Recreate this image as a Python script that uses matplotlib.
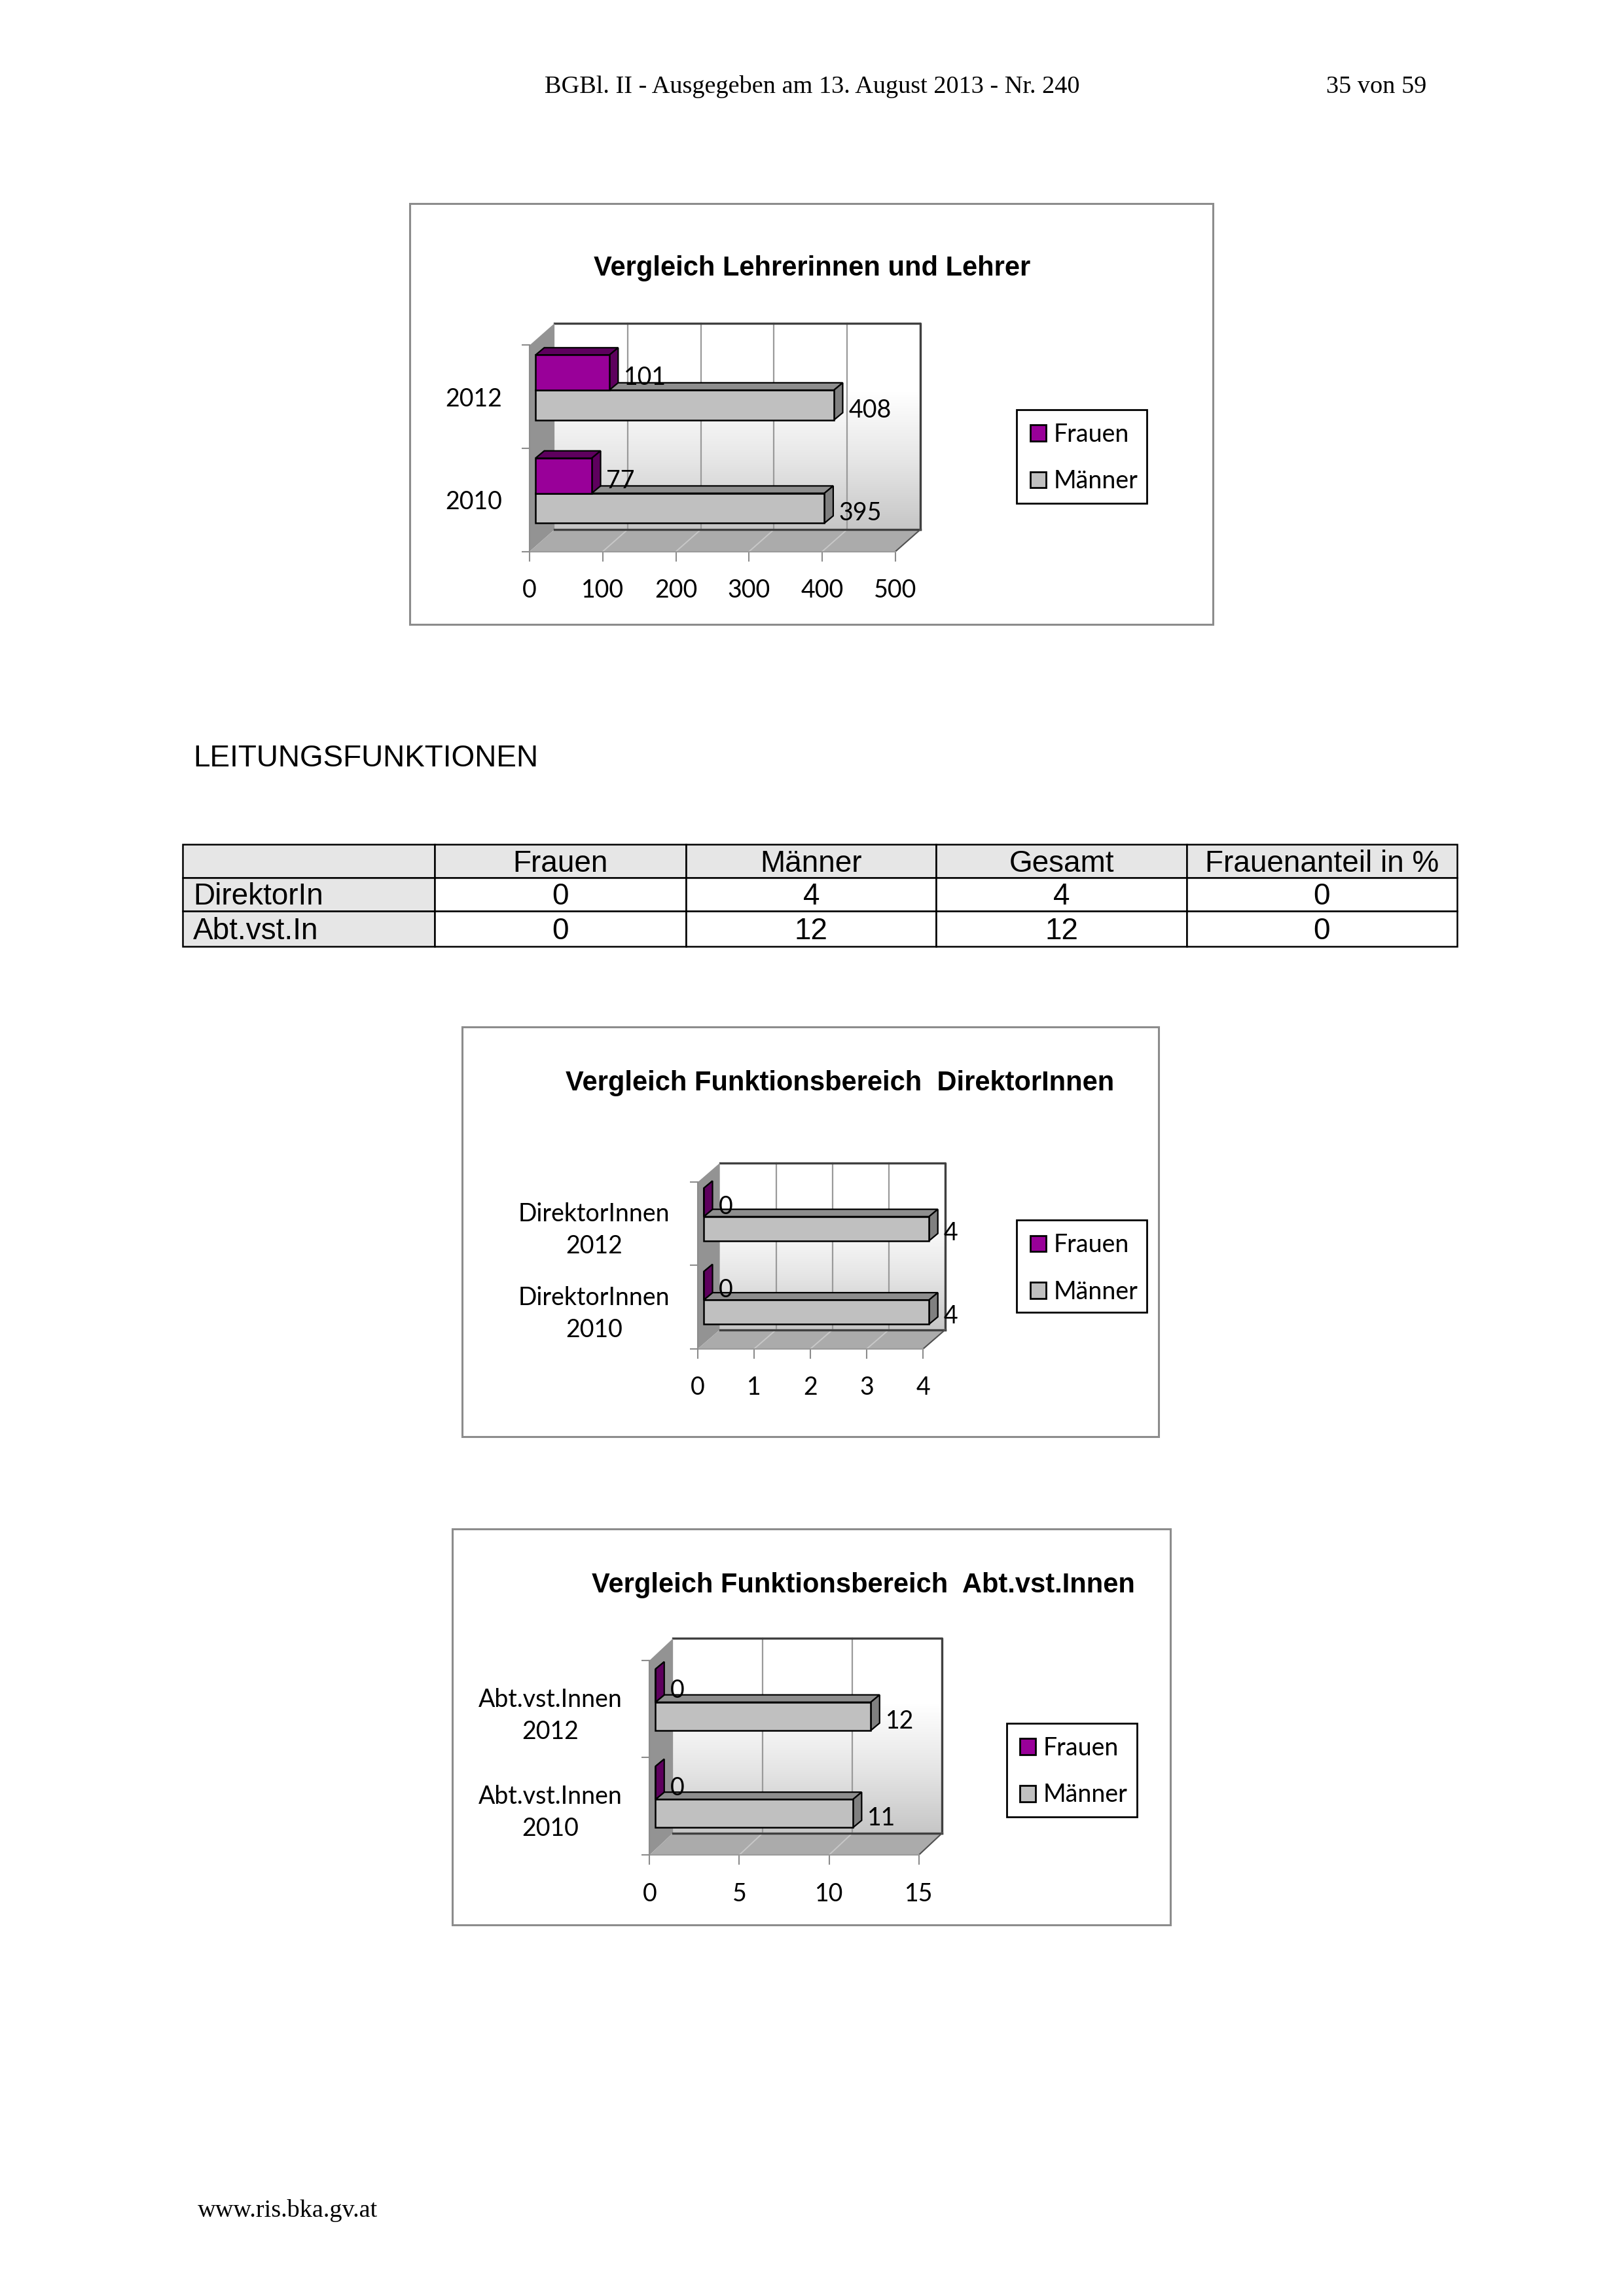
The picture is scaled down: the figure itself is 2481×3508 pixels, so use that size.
import numpy as np
import matplotlib
matplotlib.use("Agg")
import matplotlib.pyplot as plt
from matplotlib.patches import Rectangle, Polygon
from matplotlib.colors import LinearSegmentedColormap

# ---- data ----
years = ["2010", "2012"]
lehrer_frauen = [77, 101]
lehrer_maenner = [395, 408]

dir_cats = ["DirektorInnen\n2010", "DirektorInnen\n2012"]
dir_frauen = [0, 0]
dir_maenner = [4, 4]

abt_cats = ["Abt.vst.Innen\n2010", "Abt.vst.Innen\n2012"]
abt_frauen = [0, 0]
abt_maenner = [11, 12]

table_header = ["", "Frauen", "Männer", "Gesamt", "Frauenanteil in %"]
table_rows = ["DirektorIn", "Abt.vst.In"]
table_frauen = [0, 0]
table_maenner = [4, 12]
table_gesamt = [4, 12]
table_anteil = [0, 0]

legend_labels = ["Frauen", "Männer"]

# reference layout is measured on a 1110 x 1570 grid
W, H = 1110.0, 1569.5
PURPLE, PURPLE_DARK = "#990099", "#5e005e"
GREY, GREY_DARK = "#c0c0c0", "#8c8c8c"
SANS = "Liberation Sans"
CHART_FONT = "Lato"
SERIF = "Liberation Serif"
FS = 27

fig = plt.figure(figsize=(24.81, 35.08), dpi=100)


def fx(x):
    return x / W


def fy(y):
    return 1 - y / H


def frame(x0, y0, x1, y1, color="#8c8c8c", lw=2.2, fill=None):
    fig.patches.append(Rectangle((fx(x0), fy(y1)), fx(x1) - fx(x0), fy(y0) - fy(y1),
                                 transform=fig.transFigure, fill=fill is not None,
                                 facecolor=fill, edgecolor=color, lw=lw))


def legend(x0, y0, x1, y1):
    frame(x0, y0, x1, y1, color="black", lw=2.0)
    for i, (lab, col) in enumerate(zip(legend_labels, [PURPLE, GREY])):
        yy = y0 + 16 + i * 32
        fig.patches.append(Rectangle((fx(x0 + 9), fy(yy + 5.5)), fx(11), 11 / H,
                                     transform=fig.transFigure, facecolor=col,
                                     edgecolor="black", lw=2.0))
        fig.text(fx(x0 + 25), fy(yy + 1), lab, fontsize=FS, family=CHART_FONT,
                 va="center", ha="left")


def chart(frame_box, title, title_xy, cats, frauen, maenner, xmax, step,
          plane, depth, legend_box, cat_x, cat_ha):
    frame(*frame_box)
    fig.text(fx(title_xy[0]), fy(title_xy[1] + 1.5), title, fontsize=30, family=SANS,
             weight="bold", ha="center", va="center")
    px0, py0, px1, py1 = plane
    ax = fig.add_axes([fx(px0), fy(py1), fx(px1) - fx(px0), fy(py0) - fy(py1)])
    n = len(cats)
    ux = xmax / (px1 - px0)     # data units per layout pixel (x)
    uy = n / (py1 - py0)        # data units per layout pixel (y, upward)
    ddx = depth[0] * ux
    ddy = -depth[1] * uy

    # back wall with gradient
    grad = np.linspace(0, 1, 256).reshape(-1, 1)
    ax.imshow(grad, extent=[ddx, xmax + ddx, ddy, n + ddy], aspect="auto",
              cmap=LinearSegmentedColormap.from_list(
                  "w", ["#c6c6c6", "#e6e6e6", "#ffffff", "#ffffff"]),
              origin="lower", zorder=0, clip_on=False)
    for v in range(step, xmax + 1, step):
        ax.plot([v + ddx, v + ddx], [ddy, n + ddy], color="#9a9a9a", lw=1.6,
                zorder=1, clip_on=False)
    ax.plot([ddx, xmax + ddx, xmax + ddx], [n + ddy, n + ddy, ddy],
            color="#404040", lw=2.4, zorder=1, clip_on=False)
    # side wall
    ax.add_patch(Polygon([(0, 0), (ddx, ddy), (ddx, n + ddy), (0, n)],
                         closed=True, facecolor="#939393", edgecolor="none",
                         zorder=1, clip_on=False))
    # floor
    ax.add_patch(Polygon([(0, 0), (xmax, 0), (xmax + ddx, ddy), (ddx, ddy)],
                         closed=True, facecolor="#ababab", edgecolor="none",
                         zorder=1, clip_on=False))
    for v in range(step, xmax + 1, step):
        ax.plot([v, v + ddx], [0, ddy], color="#c8c8c8", lw=1.4, zorder=1.5,
                clip_on=False)
    ax.plot([ddx, xmax + ddx], [ddy, ddy], color="#404040", lw=2.4, zorder=1.6,
            clip_on=False)
    ax.plot([xmax, xmax + ddx], [0, ddy], color="#505050", lw=1.5, zorder=1.6,
            clip_on=False)
    ax.plot([0, xmax], [0, 0], color="#9a9a9a", lw=1.5, zorder=1.6,
            clip_on=False)

    # bars (3D boxes)
    sx, sy = 4 * ux, 6 * uy
    bx, by = 6 * ux, 5 * uy
    hf, hm = 0.34, 0.29
    for i in range(n):
        c = i + 0.5 + sy
        for val, y0, h, face, top, side in [
                (maenner[i], c - hm - 0.02, hm, GREY, "#8e8e8e", "#808080"),
                (frauen[i], c - 0.02, hf, PURPLE, PURPLE_DARK, PURPLE_DARK)]:
            x0 = sx
            x1 = sx + val
            ax.add_patch(Polygon([(x0, y0 + h), (x1, y0 + h), (x1 + bx, y0 + h + by),
                                  (x0 + bx, y0 + h + by)], closed=True,
                                 facecolor=top, edgecolor="black", lw=1.6,
                                 zorder=3, clip_on=False))
            ax.add_patch(Polygon([(x1, y0), (x1 + bx, y0 + by), (x1 + bx, y0 + h + by),
                                  (x1, y0 + h)], closed=True, facecolor=side,
                                 edgecolor="black", lw=1.6, zorder=3, clip_on=False))
            ax.barh(y0 + h / 2, val, height=h, left=x0, color=face,
                    edgecolor="black", lw=1.8, zorder=4, clip_on=False)
            ax.text(x1 + bx + 4 * ux, y0 + h / 2 - 0.05, str(val),
                    fontsize=FS, family=CHART_FONT, ha="left", va="center",
                    zorder=5)

    ax.set_xlim(0, xmax)
    ax.set_ylim(0, n)
    for s in ["top", "right", "bottom"]:
        ax.spines[s].set_visible(False)
    ax.spines["left"].set_color("#8c8c8c")
    ax.spines["left"].set_linewidth(1.5)
    ax.patch.set_alpha(0)
    ax.set_xticks(range(0, xmax + 1, step))
    ax.set_xticklabels([str(v) for v in range(0, xmax + 1, step)],
                       family=CHART_FONT, fontsize=FS)
    ax.tick_params(axis="x", length=11, width=1.5, color="#8c8c8c", pad=19)
    ax.set_yticks(range(0, n + 1))
    ax.set_yticklabels([])
    ax.tick_params(axis="y", length=9, width=1.5, color="#8c8c8c")
    ax.set_yticks([i + 0.5 for i in range(n)], minor=True)
    ax.set_yticklabels(cats, minor=True, family=CHART_FONT, fontsize=FS,
                       ha=cat_ha, linespacing=1.45)
    ax.tick_params(axis="y", which="minor", length=0,
                   pad=(px0 - cat_x) / W * 24.81 * 72)
    legend(*legend_box)


# header / footer
fig.text(fx(555), fy(59.5), "BGBl. II - Ausgegeben am 13. August 2013 - Nr. 240",
         family=SERIF, fontsize=27.5, ha="center", va="center")
fig.text(fx(975), fy(59.5), "35 von 59", family=SERIF, fontsize=27.5,
         ha="right", va="center")
fig.text(fx(135), fy(1511), "www.ris.bka.gv.at", family=SERIF, fontsize=27.5,
         ha="left", va="center")

chart((280, 139, 829, 427), "Vergleich Lehrerinnen und Lehrer", (555, 182),
      years, lehrer_frauen, lehrer_maenner, 500, 100,
      (362, 236, 612, 377), (17, -15), (695, 280, 784, 344), 343, "right")

fig.text(fx(132), fy(518.5), "LEITUNGSFUNKTIONEN", family=SANS, fontsize=33,
         ha="left", va="center")

# table
col_x = [125, 297, 469, 640, 811, 996]
row_y = [577, 600, 623, 647]
for r in range(3):
    for c in range(5):
        shade = "#e6e6e6" if (r == 0 or c == 0) else "white"
        frame(col_x[c], row_y[r], col_x[c + 1], row_y[r + 1], color="black",
              lw=1.8, fill=shade)
for c, lab in enumerate(table_header):
    fig.text(fx((col_x[c] + col_x[c + 1]) / 2), fy(590.5), lab, family=SANS,
             fontsize=33, ha="center", va="center")
for r, name in enumerate(table_rows):
    yy = (row_y[r + 1] + row_y[r + 2]) / 2 + 1.5
    fig.text(fx(col_x[0] + 7), fy(yy), name, family=SANS, fontsize=33,
             ha="left", va="center")
    for c, vals in enumerate([table_frauen, table_maenner, table_gesamt, table_anteil]):
        fig.text(fx((col_x[c + 1] + col_x[c + 2]) / 2), fy(yy), str(vals[r]),
                 family=SANS, fontsize=33, ha="center", va="center")

chart((316, 702, 792, 982), "Vergleich Funktionsbereich  DirektorInnen", (574, 739),
      dir_cats, dir_frauen, dir_maenner, 4, 1,
      (477, 808, 631, 922), (15, -13), (695, 834, 784, 897), 406, "center")

chart((309, 1045, 800, 1316), "Vergleich Funktionsbereich  Abt.vst.Innen", (590, 1082),
      abt_cats, abt_frauen, abt_maenner, 15, 5,
      (444, 1135, 628, 1268), (16, -15), (688, 1178, 777, 1242), 376, "center")

fig.savefig("out.png", dpi=100)
